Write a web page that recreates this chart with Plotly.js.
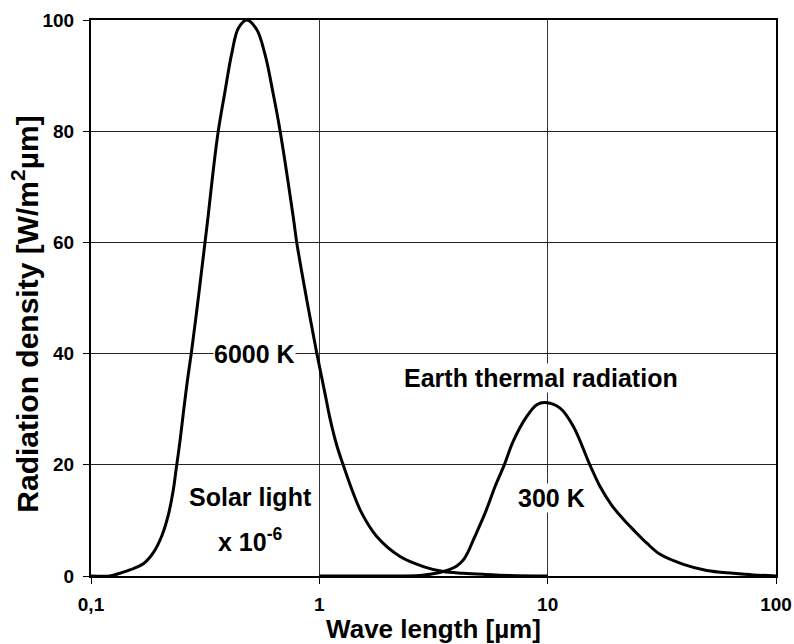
<!DOCTYPE html>
<html>
<head>
<meta charset="utf-8">
<script src="https://cdn.plot.ly/plotly-3.0.1.min.js"></script>
<style>html,body{margin:0;padding:0;background:#fff;}#chart{width:794px;height:644px;}</style>
</head>
<body>
<div id="chart"></div>
<script>
// Solar light (6000 K, x 10^-6)
const solarX = [0.1, 0.121, 0.134, 0.148, 0.1695, 0.1875, 0.2041, 0.2181, 0.2294, 0.2356, 0.2454, 0.2537, 0.2641, 0.2761, 0.2951, 0.3157, 0.3264, 0.3432, 0.3611, 0.3864, 0.4135, 0.4418, 0.4809, 0.5318, 0.5783, 0.6289, 0.673, 0.7692, 0.7962, 0.8808, 0.9741, 1.059, 1.114, 1.19, 1.274, 1.387, 1.534, 1.784, 2.257, 2.855, 3.492, 4.273, 5.229, 6.843, 10];
const solarY = [0, 0, 0.5, 1.1, 2.2, 4.2, 7.2, 11.0, 15.5, 19.0, 24.3, 29.3, 35.0, 40.6, 50.0, 60, 65, 73, 80.1, 87.2, 94.0, 98.5, 100, 98.3, 93.8, 86.6, 80.1, 64.5, 60, 49.7, 40.1, 32.8, 28.3, 23.6, 19.9, 15.6, 11.3, 7.1, 3.5, 1.7, 0.8, 0.5, 0.3, 0.1, 0];
// Earth thermal radiation (300 K)
const earthX = [1, 2, 2.761, 3.148, 3.492, 3.737, 4.0, 4.273, 4.5, 4.727, 5.319, 5.884, 6.442, 7.077, 8.1, 8.961, 9.741, 11.33, 12.96, 15.34, 16.96, 19.09, 21.46, 23.74, 27.18, 31.07, 39.3, 49.77, 65.08, 79.62, 100];
const earthY = [0, 0, 0.1, 0.4, 0.8, 1.2, 1.8, 2.9, 4.5, 6.5, 11.3, 16.1, 19.9, 24.3, 28.7, 30.8, 31.2, 30.2, 26.9, 19.9, 16.1, 12.7, 10.2, 8.3, 5.9, 3.9, 2.1, 1.0, 0.5, 0.2, 0];
const xTickVals = [0.1, 1, 10, 100];
const xTickText = ["0,1", "1", "10", "100"];
const yTickVals = [0, 20, 40, 60, 80, 100];

const FONT = "Liberation Sans, Arial, sans-serif";
const lineStyle = {color: "#000", width: 3, shape: "spline", smoothing: 1};

const traces = [
  {x: solarX, y: solarY, mode: "lines", line: lineStyle, hoverinfo: "skip", showlegend: false},
  {x: earthX, y: earthY, mode: "lines", line: lineStyle, hoverinfo: "skip", showlegend: false}
];

function ann(text, xv, yv) {
  return {text: "<b>" + text + "</b>", x: Math.log10(xv), y: yv, xref: "x", yref: "y",
    showarrow: false, bgcolor: "#fff", borderpad: 0,
    font: {family: FONT, size: 25, color: "#000"}};
}

const layout = {
  width: 794, height: 644,
  margin: {l: 91, r: 18, t: 20, b: 68},
  paper_bgcolor: "#fff", plot_bgcolor: "#fff",
  font: {family: FONT, color: "#000"},
  xaxis: {
    type: "log", range: [-1, 2],
    tickvals: xTickVals, ticktext: xTickText,
    tickfont: {family: FONT, size: 19, weight: "bold", color: "#000"},
    ticks: "outside", ticklen: 6, tickcolor: "#000", tickwidth: 1,
    ticklabelstandoff: 4,
    showgrid: true, gridcolor: "#333", gridwidth: 1,
    showline: true, linecolor: "#000", linewidth: 2, mirror: true,
    zeroline: false, automargin: false,
    title: {text: "<b>Wave length [µm]</b>", font: {family: FONT, size: 26, color: "#000"}, standoff: 2}
  },
  yaxis: {
    range: [0, 100],
    tickvals: yTickVals,
    tickfont: {family: FONT, size: 19, weight: "bold", color: "#000"},
    ticks: "outside", ticklen: 6, tickcolor: "#000", tickwidth: 1,
    ticklabelstandoff: 5,
    showgrid: true, gridcolor: "#222", gridwidth: 1,
    showline: true, linecolor: "#000", linewidth: 2, mirror: true,
    zeroline: false, automargin: false,
    title: {text: ""}
  },
  annotations: [
    ann("6000 K", 0.52, 40),
    ann("Earth thermal radiation", 9.36, 35.6),
    ann("300 K", 10.4, 14),
    ann("Solar light", 0.5, 14.2),
    ann("x 10<sup>-6</sup>", 0.5, 6.5),
    {text: "<b>Radiation density [W/m<sup>2</sup>µm]</b>", textangle: -90,
     xref: "paper", yref: "paper", x: -0.0965, y: 0.4716, xanchor: "center", yanchor: "middle",
     showarrow: false, font: {family: FONT, size: 30, color: "#000"}}
  ]
};

Plotly.newPlot("chart", traces, layout, {staticPlot: true, displayModeBar: false});
</script>
</body>
</html>
